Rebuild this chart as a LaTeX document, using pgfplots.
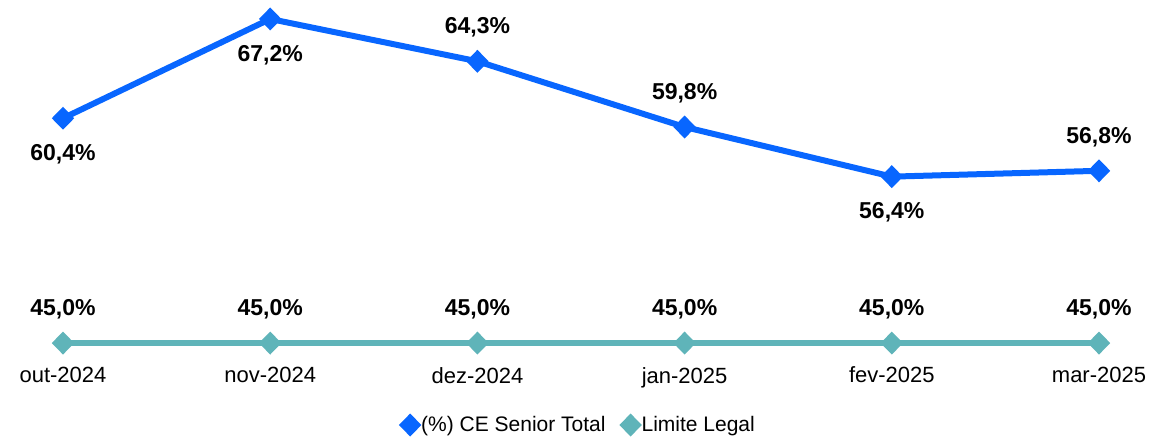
\documentclass[border=0pt]{standalone}
\usepackage{pgfplots}
\pgfplotsset{compat=1.18}
\usepackage{fontspec}
\setmainfont{Liberation Sans}
\definecolor{ceblue}{RGB}{8,102,255}
\definecolor{legteal}{RGB}{95,180,185}
\begin{document}
\begin{tikzpicture}
\begin{axis}[
  name=ax,
  scale only axis,
  width=569.8pt, height=180pt,
  xmin=-0.25, xmax=5.25,
  ymin=43.84, ymax=68.5,
  clip=false,
  axis line style={draw=none},
  major tick length=0pt,
  ytick=\empty,
  xtick={0,1,2,3,4,5},
  xticklabels={out-2024,nov-2024,dez-2024,jan-2025,fev-2025,mar-2025},
  tick label style={font=\fontsize{11}{13}\selectfont},
  /pgf/number format/assume math mode=true,
  legend style={at={(0.5,-0.1806)}, anchor=center, draw=none, fill=none,
    font=\fontsize{10.5}{13}\selectfont, legend columns=2,
    /tikz/every even column/.append style={column sep=7pt}},
  legend image code/.code={\draw[#1,draw=none] plot coordinates {(0.14cm,0cm)};},
  legend cell align=left,
]
\addplot[color=ceblue, line width=3pt, mark=diamond*, mark size=3.6pt,
  mark options={fill=ceblue, draw=none, xscale=1.3}]
  coordinates {(0,60.4) (1,67.2) (2,64.3) (3,59.8) (4,56.4) (5,56.8)};
\addlegendentry{(\%) CE Senior Total}
\addplot[color=legteal, line width=3pt, mark=diamond*, mark size=3.6pt,
  mark options={fill=legteal, draw=none, xscale=1.3}]
  coordinates {(0,45) (1,45) (2,45) (3,45) (4,45) (5,45)};
\addlegendentry{Limite Legal}
% labels above
\addplot[forget plot, draw=none, mark=none,
  nodes near coords={\pgfmathprintnumber[fixed,fixed zerofill,precision=1,use comma]{\pgfplotspointmeta}\%},
  point meta=y,
  every node near coord/.style={anchor=center, yshift=17pt, font=\fontsize{11.5}{13}\selectfont\bfseries, text=black}]
  coordinates {(2,64.3) (3,59.8) (5,56.8) (0,45) (1,45) (2,45) (3,45) (4,45) (5,45)};
% labels below
\addplot[forget plot, draw=none, mark=none, only marks,
  nodes near coords={\pgfmathprintnumber[fixed,fixed zerofill,precision=1,use comma]{\pgfplotspointmeta}\%},
  point meta=y,
  every node near coord/.style={anchor=center, yshift=-18pt, font=\fontsize{11.5}{13}\selectfont\bfseries, text=black}]
  coordinates {(0,60.4) (1,67.2) (4,56.4)};
\end{axis}
\pgfresetboundingbox
\path[use as bounding box] ([shift={(-5.6pt,-39pt)}]ax.south west) rectangle +(574.5pt,219pt);
\end{tikzpicture}
\end{document}
